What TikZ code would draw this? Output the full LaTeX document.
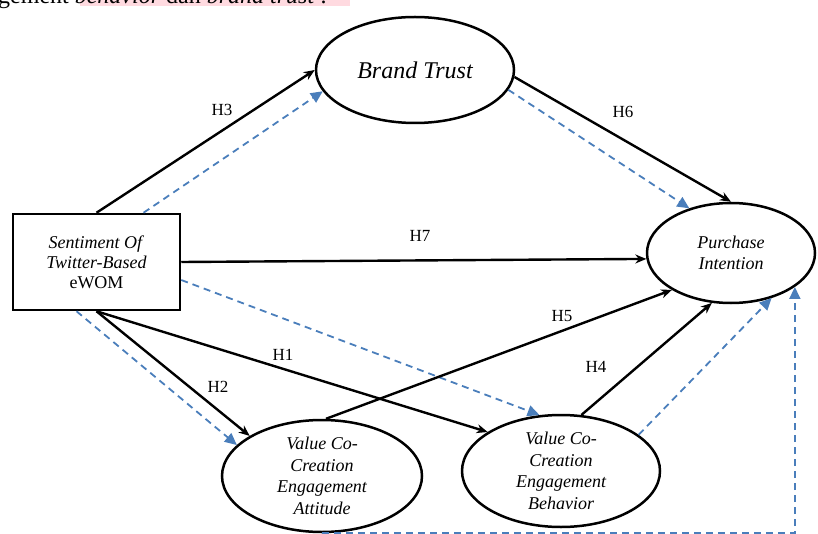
\documentclass[tikz,border=0pt]{standalone}
\usepackage{fontspec}
\setmainfont{Liberation Serif}
\usetikzlibrary{arrows.meta,shapes.geometric}
\definecolor{dblue}{RGB}{74,126,187}
\definecolor{pinkhl}{RGB}{255,218,224}
\begin{document}
\begin{tikzpicture}[x=1pt,y=-1pt,
  ell/.style={draw, line width=2.5pt, ellipse, inner sep=0pt, align=center, font=\fontsize{18}{21.5}\selectfont\itshape},
  solidarr/.style={line width=2.4pt, -{Stealth[length=11pt,width=9pt]}},
  dasharr/.style={dblue, line width=1.8pt, dash pattern=on 7pt off 5pt, -{Triangle[length=12pt,width=11pt]}},
  hlab/.style={font=\fontsize{17}{19}\selectfont, inner sep=0pt}]
\useasboundingbox (0,0) rectangle (818,534);
% cropped caption line at the top
\fill[pinkhl] (80,-20) rectangle (350,6);
\node[anchor=base west, inner sep=0pt, font=\fontsize{24}{28}\selectfont] (toptext) at (-2,4) {gement \textit{behavior} dan \textit{brand trust} .};
% nodes
\node[ell, minimum width=198pt, minimum height=106pt, font=\fontsize{24}{26}\selectfont\itshape] (bt) at (415,70) {Brand Trust};
\node[draw, line width=2.5pt, minimum width=167pt, minimum height=96pt, align=center, inner sep=0pt, font=\fontsize{18}{20}\selectfont] (sw) at (96.5,262) {\textit{Sentiment Of}\\\textit{Twitter-Based}\\eWOM};
\node[ell, minimum width=168pt, minimum height=100pt] (pi) at (731,253) {Purchase\\Intention};
\node[ell, inner sep=-20pt, minimum width=200pt, minimum height=112pt] (va) at (322,476) {Value Co-\\Creation\\Engagement\\Attitude};
\node[ell, inner sep=-20pt, minimum width=198pt, minimum height=112pt] (vb) at (561,471) {Value Co-\\Creation\\Engagement\\Behavior};
% connectors
\draw[solidarr] (sw.north) -- (bt.180);
\draw[dasharr] ([xshift=47pt]sw.north) -- (bt.193);
\draw[solidarr] (bt.-4) -- (pi.90);
\draw[dasharr] (bt.-12) -- (pi.133);
\draw[solidarr] (sw.east) -- (pi.184);
\draw[dasharr] ([yshift=-18pt]sw.east) -- (vb.111);
\draw[solidarr] (va.86) -- (pi.212);
\draw[solidarr] (sw.south) -- (vb.152);
\draw[solidarr] (sw.south) -- (va.151);
\draw[dasharr] ([xshift=-20pt]sw.south) -- (va.160);
\draw[solidarr] (vb.70) -- (pi.249);
\draw[dasharr] (vb.25) -- (pi.-48);
\draw[dasharr] (va.south) -- (va.south -| pi.-28) -- (pi.-28);
% labels
\node[hlab] (l3) at (222,110) {H3};
\node[hlab] (l6) at (623,112) {H6};
\node[hlab] (l7) at (420,236) {H7};
\node[hlab] (l5) at (562,316) {H5};
\node[hlab] (l1) at (283,355) {H1};
\node[hlab] (l2) at (218,387) {H2};
\node[hlab] (l4) at (596,367) {H4};
\end{tikzpicture}
\end{document}
